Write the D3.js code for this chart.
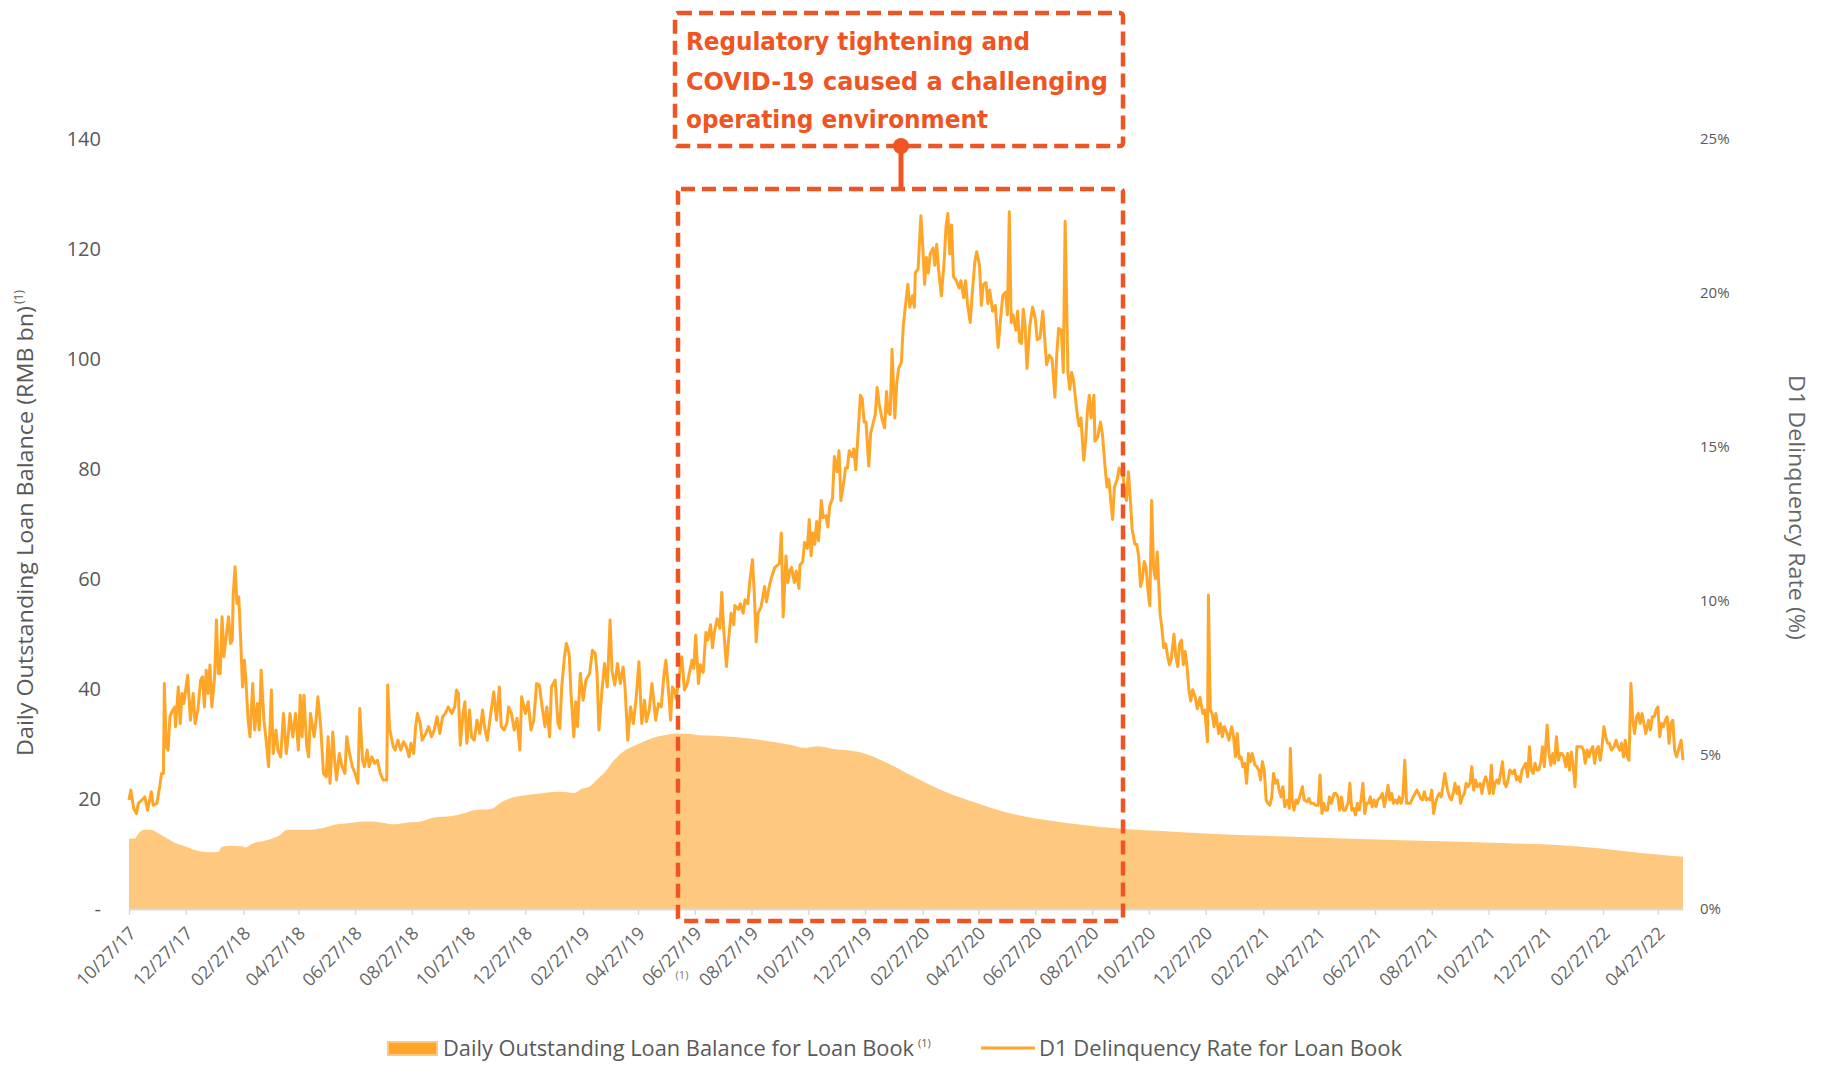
<!DOCTYPE html>
<html><head><meta charset="utf-8">
<script src="https://cdn.jsdelivr.net/npm/d3@7"></script>
<style>body{margin:0;background:#fff;} svg{display:block;}</style>
</head><body>
<svg id="chart" width="1825" height="1067"></svg>
<script>
// ---------------- DATA ----------------
const startDate = "10/27/17";
const endDate = "05/24/22";
const xTickLabels = ["10/27/17","12/27/17","02/27/18","04/27/18","06/27/18","08/27/18","10/27/18","12/27/18",
  "02/27/19","04/27/19","06/27/19","08/27/19","10/27/19","12/27/19","02/27/20","04/27/20","06/27/20","08/27/20",
  "10/27/20","12/27/20","02/27/21","04/27/21","06/27/21","08/27/21","10/27/21","12/27/21","02/27/22","04/27/22"];
const leftTicks = [0,20,40,60,80,100,120,140];
const rightTicks = [0,5,10,15,20,25];

// Daily outstanding loan balance (RMB bn), days since start date
const balanceDays = [0,6,10,16,24,31,41,51,57,72,88,96,100,109,121,125,133,146,162,170,
  179,191,207,224,240,257,273,284,298,313,327,347,360,372,389,401,409,426,442,463,
  479,487,494,504,512,520,531,545,561,578,590,603,612,630,671,712,725,741,754,786,
  813,845,877,910,942,980,1023,1066,1109,1173,1259,1367,1474,1539,1582,1625,1670];
const balanceValues = [12.8,12.8,13.7,14.4,14.4,13.8,12.8,11.9,11.6,10.7,10.3,10.4,11.3,11.5,11.4,11.2,11.9,12.4,13.4,14.4,
  14.4,14.4,14.7,15.4,15.7,15.9,15.7,15.4,15.7,15.9,16.6,16.9,17.4,18.0,18.2,19.5,20.1,20.7,21.0,21.3,
  21.1,21.9,22.2,23.7,25.0,26.8,28.6,29.8,31.0,31.7,31.9,31.8,31.6,31.5,30.9,29.8,29.3,29.6,29.2,28.5,
  26.7,23.9,21.3,19.3,17.6,16.3,15.3,14.6,14.2,13.6,13.1,12.5,12.0,11.6,11.0,10.2,9.5];

// D1 delinquency rate (%), days since start date
const rateDays = [
0,2,5,8,10,14,17,20,24,26,
30,33,35,37,38,40,42,44,46,49,
50,53,55,57,59,63,66,69,71,74,
77,79,81,83,85,87,89,92,94,96,
98,100,102,104,107,109,111,112,114,116,
118,120,122,124,126,128,130,133,135,138,
140,142,145,147,150,153,155,158,160,163,
166,169,171,173,176,179,182,184,186,188,
191,193,195,199,201,203,206,209,212,214,
216,219,221,223,226,229,232,234,237,240,
243,246,248,251,253,256,258,261,264,267,
270,273,277,278,280,284,286,289,292,295,
298,301,303,306,308,310,313,315,319,322,
325,328,331,334,337,340,343,347,350,352,
354,356,359,361,363,366,368,371,374,377,
380,382,385,389,392,395,398,400,403,406,
408,411,414,417,420,422,426,429,432,435,
438,441,444,447,449,452,454,458,461,463,
465,468,470,473,475,478,480,482,485,488,
491,495,498,501,503,505,508,511,514,517,
519,522,525,528,531,533,536,539,542,545,
548,551,554,556,559,562,566,569,572,575,
577,580,582,584,586,588,594,597,600,605,
607,609,612,
614,617,620,622,625,627,629,632,635,637,
639,642,644,647,650,651,655,657,660,662,
665,667,670,672,674,676,679,681,683,685,
688,690,694,697,699,701,703,706,708,710,
712,715,717,720,721,724,726,729,731,733,
735,737,739,741,744,746,749,751,753,756,
758,761,763,765,768,770,772,774,777,779,
781,783,786,788,790,792,795,797,799,802,
804,806,809,812,814,816,818,820,823,825,
827,830,832,834,837,839,842,844,845,848,
851,853,855,857,859,861,864,866,868,870,
873,876,878,880,882,884,886,889,892,894,
897,899,901,904,906,909,911,914,916,918,
921,923,925,928,931,934,937,939,942,944,
946,948,950,953,955,957,959,961,963,965,
968,971,974,976,979,982,984,986,989,992,
995,997,999,1002,1004,1006,1009,1011,1013,1015,
1017,1019,1021,1023,1026,1028,1030,1032,1034,1037,
1038,1041,1044,1046,1049,1051,1053,1055,1057,1059,
1062,1064,1066,1068,1070,1072,1074,1076,1078,1081,
1083,1085,1087,1089,1091,1093,1095,1097,1099,1101,
1103,1105,1108,1110,1112,1114,1116,1118,1120,1123,
1125,1127,1129,1131,1133,1135,1137,1139,1141,1143,
1146,1148,1151,
1152,1154,1156,1159,1160,1162,1164,1166,1168,1171,
1173,1175,1177,1180,1182,1185,1187,1189,1191,1193,
1195,1197,1199,1201,1203,1205,1207,1210,1212,1214,
1216,1218,1220,1222,1224,1226,1228,1230,1232,1234,
1236,1238,1240,1242,1245,1247,1248,1250,1252,1254,
1256,1258,1261,1263,1266,1268,1270,1273,1275,1278,
1280,1282,1284,1286,1288,1290,1292,1295,1297,1299,
1301,1303,1305,1307,1310,1312,1314,1316,1318,1320,
1322,1324,1326,1328,1330,1332,1334,1336,1338,1340,
1342,1345,1347,1349,1351,1353,1355,1357,1359,1361,
1363,1365,1367,1369,1371,1373,1375,1377,1380,1382,
1384,1386,1388,1390,1392,1394,1396,1398,1400,1402,
1404,1406,1408,1410,1412,1414,1417,1419,1421,1423,
1425,1427,1429,1431,1433,1435,1437,1439,1441,1443,
1445,1447,1449,1452,1454,1456,1458,1460,1462,1464,
1466,1468,1470,1472,1474,1476,1478,1480,1482,1484,
1487,1489,1491,1493,1495,1497,1499,1501,1503,1505,
1507,1509,1511,1513,1515,1517,1519,1521,1524,1526,
1528,1530,1532,1534,1536,1538,1540,1542,1544,1546,
1548,1550,1552,1554,1556,1558,1561,1563,1565,1567,
1569,1571,1573,1575,1577,1579,1581,1583,1585,1587,
1589,1591,1593,1596,1598,1600,1602,1604,1606,1608,
1610,1612,1614,1616,1618,1620,1622,1624,1626,1628,
1630,1633,1635,1637,1639,1641,1643,1645,1647,1649,
1651,1653,1655,1657,1659,1661,1663,1665,1668,1670];
const rateValues = [
3.54,3.86,3.27,3.10,3.43,3.54,3.64,3.21,3.81,3.37,
3.43,3.97,4.40,4.40,7.32,5.27,5.16,6.24,6.40,6.56,
5.92,7.21,6.02,7.00,6.67,7.59,6.13,7.00,6.02,6.46,
7.43,7.54,6.56,7.75,7.00,7.92,6.56,7.54,9.38,7.65,
7.65,9.49,8.19,8.73,9.49,8.62,8.73,10.24,11.11,9.92,
10.13,8.73,7.21,8.08,7.21,6.13,5.59,7.32,5.81,6.67,
5.81,7.75,6.13,5.59,4.62,7.11,5.05,5.81,5.16,4.94,
6.35,5.05,5.59,6.35,5.59,6.35,5.16,6.94,5.59,6.94,
5.27,4.94,6.35,5.59,6.13,6.89,5.92,4.40,4.29,5.59,
4.08,5.75,4.83,4.19,5.05,4.62,4.40,5.59,5.05,4.62,
4.40,4.08,6.51,4.83,4.62,5.16,4.62,4.94,4.73,4.83,
4.40,4.19,4.19,7.27,5.86,5.27,5.16,5.48,5.16,5.43,
5.27,4.94,5.38,5.05,5.92,6.35,6.02,5.48,5.70,5.92,
5.59,5.81,6.24,5.70,6.24,6.35,6.56,6.35,6.56,7.11,
7.00,5.32,6.35,6.73,5.38,6.46,5.59,5.48,6.13,5.70,
6.46,5.92,5.48,6.40,7.05,6.13,7.21,5.92,5.81,6.02,
6.56,6.35,5.81,6.19,5.16,6.89,6.35,6.73,5.81,6.13,
7.32,7.27,6.56,5.92,6.56,5.59,7.21,7.43,6.02,5.86,
7.21,8.19,8.62,8.30,7.00,5.59,6.73,5.92,7.65,6.78,
7.43,7.65,8.40,8.30,7.65,5.81,7.00,7.97,7.21,9.38,
7.75,7.27,7.97,7.32,7.86,7.21,5.48,6.56,6.02,6.84,
8.03,6.02,6.78,6.08,6.46,7.32,6.13,6.67,6.56,7.65,
8.08,7.00,6.13,7.21,7.11,6.84,8.19,7.11,7.32,8.08,
7.81,8.89,7.32,
7.93,7.68,8.98,8.73,9.23,8.48,8.98,9.42,9.11,10.28,
9.11,7.87,8.61,9.60,9.23,9.85,9.73,9.91,9.60,10.04,
9.91,10.60,11.34,10.22,8.67,9.60,9.79,10.10,10.47,9.97,
10.47,10.72,11.09,11.16,11.22,12.21,9.48,11.46,10.60,10.97,
11.09,10.60,10.97,10.41,11.16,11.28,11.90,11.71,12.65,11.47,
12.21,11.84,12.58,11.96,13.26,12.71,12.77,12.40,13.08,13.33,
14.69,14.20,14.88,13.26,13.82,14.32,14.32,14.88,14.69,14.94,
14.26,15.19,16.68,16.56,15.81,15.81,14.38,15.44,15.69,16.06,
16.93,16.43,15.94,15.62,16.80,16.12,16.06,18.17,15.94,17.05,
17.55,17.74,18.92,19.47,20.28,19.54,19.91,19.54,20.65,20.78,
22.51,21.52,20.28,21.15,20.65,21.27,21.46,20.90,21.58,20.78,
19.91,21.03,22.15,22.58,21.27,22.21,20.53,20.40,20.16,20.40,
19.85,20.40,19.66,19.04,19.91,21.03,21.34,20.90,19.60,20.28,
20.34,19.66,20.10,19.41,19.60,18.23,19.29,19.91,20.03,19.29,
22.64,19.04,19.29,18.79,19.41,18.42,18.36,19.47,18.92,17.55,
18.92,19.54,19.16,18.48,18.54,19.41,18.54,17.67,17.98,17.86,
16.62,17.98,18.85,18.79,17.42,22.33,17.42,16.87,17.42,17.17,
16.62,16.06,15.69,15.94,14.57,15.19,16.18,16.68,15.94,16.68,
15.19,15.32,15.81,15.44,14.32,13.70,13.95,13.26,12.65,13.70,
13.95,14.32,14.14,14.20,13.45,13.26,14.20,13.33,12.34,11.84,
11.84,11.47,10.47,10.72,11.28,11.09,10.35,9.85,13.26,11.09,
10.72,11.59,9.60,9.11,8.48,8.61,8.24,7.93,8.11,8.92,
8.18,7.87,8.61,8.73,7.93,8.36,7.87,7.12,6.75,7.12,
6.87,6.50,6.87,
6.67,6.35,6.46,5.43,10.19,6.46,6.35,5.92,6.35,5.70,
6.02,5.59,5.92,5.70,5.48,5.92,5.59,4.94,5.70,4.89,
4.94,4.62,4.73,4.08,5.05,4.78,5.05,4.67,4.62,4.51,
4.19,4.78,4.51,3.54,3.43,3.37,3.64,4.40,4.08,4.19,
3.86,3.64,3.97,3.32,3.54,3.27,5.21,3.54,3.21,3.54,
3.43,3.64,3.97,3.54,3.48,3.59,3.43,3.43,3.37,3.37,
4.35,3.10,3.43,3.21,3.21,3.64,3.43,3.75,3.75,3.64,
3.21,3.64,3.21,3.21,3.43,4.08,3.21,3.27,3.05,3.43,
3.21,3.54,4.08,3.10,3.43,3.43,3.64,3.32,3.54,3.32,
3.54,3.64,3.75,3.32,3.64,4.02,3.54,3.75,3.43,3.54,
3.43,3.64,3.43,3.64,4.83,3.43,3.43,3.43,3.64,3.75,
3.86,3.75,3.59,3.54,3.81,3.54,3.59,3.54,3.86,3.10,
3.43,3.64,3.75,3.64,3.97,4.40,3.86,3.64,3.54,3.75,
4.08,3.75,3.97,3.43,3.64,3.75,4.08,3.97,4.08,4.62,
3.86,4.19,3.97,4.08,3.75,4.13,4.29,4.08,3.75,4.67,
3.75,4.08,4.19,4.08,4.40,4.78,4.08,3.97,4.19,4.51,
4.40,4.51,4.19,4.29,4.13,4.51,4.62,4.73,4.29,5.27,
4.51,4.40,4.73,4.51,4.51,4.73,5.27,4.62,5.97,5.05,
4.67,5.05,4.73,5.59,4.83,5.05,5.05,4.94,4.62,5.05,
4.51,5.10,4.62,3.97,5.27,5.27,5.27,5.16,4.73,5.16,
4.94,5.16,5.27,4.73,5.16,5.27,4.83,5.27,5.92,5.59,
5.38,5.38,5.16,5.27,5.48,5.27,5.16,5.38,4.94,5.48,
4.94,4.83,7.32,6.13,5.70,6.24,6.35,6.02,6.35,6.02,
5.70,6.13,5.81,6.24,6.24,6.46,6.56,5.59,6.02,5.92,
6.13,6.24,5.38,6.02,6.13,5.16,4.94,5.16,5.48,4.83];

const annotationLines = ["Regulatory tightening and","COVID-19 caused a challenging","operating environment"];
const leftTitle = "Daily Outstanding Loan Balance (RMB bn)";
const rightTitle = "D1 Delinquency Rate (%)";
const legendBalance = "Daily Outstanding Loan Balance for Loan Book";
const legendRate = "D1 Delinquency Rate for Loan Book";

// ---------------- CHART ----------------
const svg = d3.select("#chart");
const parse = d3.timeParse("%m/%d/%y");
const t0 = parse(startDate);
const toDate = d => d3.timeDay.offset(t0, d);

const x = d3.scaleTime().domain([t0, parse(endDate)]).range([129, 1683]);
const yL = d3.scaleLinear().domain([0, 140]).range([909, 139]);
const yR = d3.scaleLinear().domain([0, 25]).range([909, 139]);

const balance = balanceDays.map((d, i) => ({date: toDate(d), v: balanceValues[i]}));
const n = Math.min(rateDays.length, rateValues.length);
const rate = rateDays.slice(0, n).map((d, i) => ({date: toDate(d), v: rateValues[i]}));

const gray = "#595959";
const red = "#EE5522";

// area
svg.append("path").datum(balance)
  .attr("fill", "#FEC87E")
  .attr("d", d3.area().x(d => x(d.date)).y0(yL(0)).y1(d => yL(d.v)).curve(d3.curveMonotoneX));

// x axis
const tickDates = xTickLabels.map(parse);
const xAxis = svg.append("g").attr("transform", "translate(0,909)")
  .call(d3.axisBottom(x).tickValues(tickDates).tickSize(6).tickSizeOuter(0).tickFormat(d3.timeFormat("%m/%d/%y")));
xAxis.select(".domain").attr("stroke", "#D9D9D9").attr("stroke-width", 2);
xAxis.selectAll(".tick line").attr("stroke", "#D9D9D9").attr("stroke-width", 1.5);
xAxis.selectAll(".tick text")
  .attr("x", 0).attr("y", 0).attr("dy", "0.35em")
  .attr("transform", "translate(3,21) rotate(-45)")
  .attr("text-anchor", "end")
  .attr("fill", "#666")
  .style("font-family", "'Open Sans', sans-serif")
  .style("font-size", "18px");

// footnote marker under 06/27/19
svg.append("text").attr("x", 682).attr("y", 979).attr("text-anchor", "middle")
  .attr("fill", "#777").style("font-family", "'Open Sans', sans-serif").style("font-size", "11px").text("(1)");

// left axis
const left = svg.append("g").attr("transform", "translate(101,0)")
  .call(d3.axisLeft(yL).tickValues(leftTicks).tickSize(0).tickPadding(0).tickFormat(d => d === 0 ? "-" : d));
left.select(".domain").remove();
left.selectAll("text").attr("fill", gray).style("font-family", "'Open Sans', sans-serif").style("font-size", "20px");

// right axis
const right = svg.append("g").attr("transform", "translate(1700,0)")
  .call(d3.axisRight(yR).tickValues(rightTicks).tickSize(0).tickPadding(0).tickFormat(d => d + "%"));
right.select(".domain").remove();
right.selectAll("text").attr("fill", gray).style("font-family", "'Open Sans', sans-serif").style("font-size", "15px");

// line
svg.append("path").datum(rate)
  .attr("fill", "none").attr("stroke", "#FFA629").attr("stroke-width", 3).attr("stroke-linejoin", "round")
  .attr("d", d3.line().x(d => x(d.date)).y(d => yR(d.v)));

// axis titles
const lt = svg.append("g").attr("transform", "translate(33,756) rotate(-90)");
lt.append("text").attr("x", 0).attr("y", 0).attr("textLength", 450).attr("lengthAdjust", "spacingAndGlyphs")
  .attr("fill", gray).style("font-family", "'Open Sans', sans-serif").style("font-size", "22px").text(leftTitle);
lt.append("text").attr("x", 452).attr("y", -10).attr("fill", gray)
  .style("font-family", "'Open Sans', sans-serif").style("font-size", "12px").text("(1)");

const rt = svg.append("g").attr("transform", "translate(1789,375) rotate(90)");
rt.append("text").attr("x", 0).attr("y", 0).attr("textLength", 265).attr("lengthAdjust", "spacingAndGlyphs")
  .attr("fill", "#666").style("font-family", "'Open Sans', sans-serif").style("font-size", "22px").text(rightTitle);

// annotation boxes
svg.append("rect").attr("x", 675).attr("y", 13).attr("width", 448).attr("height", 133).attr("rx", 3)
  .attr("fill", "none").attr("stroke", red).attr("stroke-width", 4.5).attr("stroke-dasharray", "14 7");
svg.append("rect").attr("x", 678).attr("y", 189).attr("width", 445).attr("height", 732).attr("rx", 3)
  .attr("fill", "none").attr("stroke", red).attr("stroke-width", 4.5).attr("stroke-dasharray", "14 7");
svg.append("line").attr("x1", 901).attr("x2", 901).attr("y1", 146).attr("y2", 189)
  .attr("stroke", red).attr("stroke-width", 5);
svg.append("circle").attr("cx", 901).attr("cy", 146).attr("r", 8).attr("fill", red);

const annLengths = [344, 422, 302];
const annY = [50, 90, 128];
annotationLines.forEach((s, i) => {
  svg.append("text").attr("x", 686).attr("y", annY[i]).attr("textLength", annLengths[i]).attr("lengthAdjust", "spacingAndGlyphs")
    .attr("fill", red).style("font-family", "'DejaVu Sans', sans-serif").style("font-weight", "bold").style("font-size", "24px").text(s);
});

// legend
svg.append("rect").attr("x", 388).attr("y", 1042).attr("width", 49).attr("height", 13)
  .attr("fill", "#FFA629").attr("stroke", "#FEC87E").attr("stroke-width", 2);
svg.append("text").attr("x", 443).attr("y", 1056).attr("textLength", 471).attr("lengthAdjust", "spacingAndGlyphs")
  .attr("fill", gray).style("font-family", "'Open Sans', sans-serif").style("font-size", "21px").text(legendBalance);
svg.append("text").attr("x", 918).attr("y", 1047).attr("fill", gray)
  .style("font-family", "'Open Sans', sans-serif").style("font-size", "11px").text("(1)");
svg.append("line").attr("x1", 981).attr("x2", 1035).attr("y1", 1048).attr("y2", 1048)
  .attr("stroke", "#FFA629").attr("stroke-width", 3);
svg.append("text").attr("x", 1039).attr("y", 1056).attr("textLength", 363).attr("lengthAdjust", "spacingAndGlyphs")
  .attr("fill", gray).style("font-family", "'Open Sans', sans-serif").style("font-size", "21px").text(legendRate);
</script>
</body></html>
